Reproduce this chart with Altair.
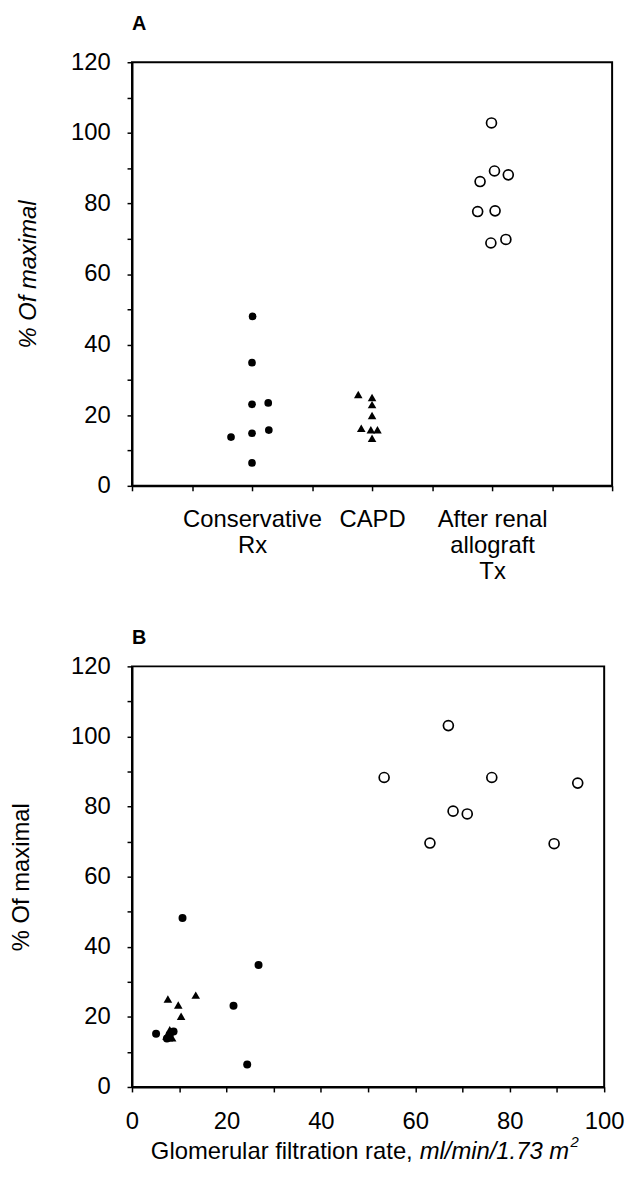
import json
import altair as alt
import pandas as pd

FONT = "Liberation Sans"

# ---------------- Panel A data (group position on 0-8 axis, % of maximal)
cat_positions = [2, 4, 6]
cat_labels = [["Conservative", "Rx"], ["CAPD"], ["After renal", "allograft", "Tx"]]

a_cons_pos = [2.01, 2.0, 2.0, 2.27, 1.65, 2.0, 2.28, 2.0]
a_cons_pct = [48.0, 34.9, 23.1, 23.5, 13.8, 14.9, 15.8, 6.5]
a_capd_pos = [3.77, 4.0, 4.0, 4.0, 3.82, 3.98, 4.09, 4.0]
a_capd_pct = [25.9, 25.0, 23.0, 19.9, 16.3, 15.9, 15.9, 13.5]
a_tx_pos = [5.99, 6.04, 6.27, 5.80, 5.76, 6.05, 5.98, 6.23]
a_tx_pct = [102.8, 89.2, 88.1, 86.2, 77.7, 77.9, 68.8, 69.8]

# ---------------- Panel B data (GFR, % of maximal)
b_cons_gfr = [10.7, 26.8, 21.5, 24.4, 5.1, 7.4, 8.0, 8.8]
b_cons_pct = [48.2, 34.8, 23.2, 6.4, 15.2, 13.8, 14.9, 15.8]
b_capd_gfr = [13.5, 7.6, 9.8, 10.4, 8.0, 7.3, 8.5, 7.8]
b_capd_pct = [26.2, 25.1, 23.4, 20.2, 16.3, 14.5, 14.0, 14.0]
b_tx_gfr = [67.0, 53.4, 76.2, 94.4, 68.0, 71.0, 63.1, 89.4]
b_tx_pct = [103.1, 88.3, 88.3, 86.7, 78.7, 77.9, 69.6, 69.4]

y_title = "% Of maximal"
x_title_parts = ["Glomerular filtration rate,", "ml/min/1.73 m", "2"]

dfA = pd.DataFrame({
    "pos": a_cons_pos + a_capd_pos + a_tx_pos,
    "pct": a_cons_pct + a_capd_pct + a_tx_pct,
    "grp": ["cons"] * len(a_cons_pos) + ["capd"] * len(a_capd_pos) + ["tx"] * len(a_tx_pos),
})
dfB = pd.DataFrame({
    "gfr": b_cons_gfr + b_capd_gfr + b_tx_gfr,
    "pct": b_cons_pct + b_capd_pct + b_tx_pct,
    "grp": ["cons"] * len(b_cons_gfr) + ["capd"] * len(b_capd_gfr) + ["tx"] * len(b_tx_gfr),
})

# label expression for panel A categories
expr = "''"
for p, lab in reversed(list(zip(cat_positions, cat_labels))):
    expr = f"datum.value == {p} ? {json.dumps(lab)} : ({expr})"

LABEL_SIZE = 24
TITLE_SIZE = 24

W_A, H_A = 484, 427
W_B, H_B = 476, 424

line_style = dict(domainColor="black", domainWidth=2, tickColor="black", tickWidth=1.5,
                  labelColor="black", titleColor="black", labelFont=FONT, titleFont=FONT)

yaxis_common = dict(
    values=list(range(0, 121, 10)),
    labelExpr="datum.value % 20 == 0 ? datum.label : ''",
    labelOverlap=False,
    labelFontSize=LABEL_SIZE,
    labelPadding=17,
    tickSize=5,
    grid=False,
    titleFontSize=TITLE_SIZE,
    titleFontWeight="normal",
    **line_style,
)

view_style = alt.ViewBackground(stroke="black", strokeWidth=2)

# ---------------- Panel A
xA = alt.X("pos:Q", scale=alt.Scale(domain=[0, 8], nice=False, zero=False),
           axis=alt.Axis(values=list(range(9)), labelExpr=expr, title=None, grid=False,
                         tickSize=5, labelPadding=17, labelBaseline="top",
                         labelLineHeight=26, labelFontSize=LABEL_SIZE,
                         labelFlush=False, labelOverlap=False, **line_style))
yA = alt.Y("pct:Q", scale=alt.Scale(domain=[0, 120], nice=False),
           axis=alt.Axis(title=y_title, titleFontStyle="italic", titlePadding=30, **yaxis_common))

baseA = alt.Chart(dfA).encode(x=xA, y=yA)
A = alt.layer(
    baseA.mark_circle(size=60, color="black", opacity=1).transform_filter(alt.datum.grp == "cons"),
    baseA.mark_point(shape="triangle-up", filled=True, size=75, color="black", opacity=1)
         .transform_filter(alt.datum.grp == "capd"),
    baseA.mark_point(shape="circle", filled=False, size=100, color="black", strokeWidth=1.7, opacity=1)
         .transform_filter(alt.datum.grp == "tx"),
).properties(
    width=W_A, height=H_A, view=view_style,
    title=alt.TitleParams("A", anchor="start", frame="group", fontSize=20, fontWeight="bold",
                          font=FONT, offset=-3, baseline="bottom", color="black"),
)

# ---------------- Panel B
xB = alt.X("gfr:Q", scale=alt.Scale(domain=[0, 100], nice=False),
           axis=alt.Axis(values=list(range(0, 101, 10)),
                         labelExpr="datum.value % 20 == 0 ? datum.label : ''",
                         labelOverlap=False, labelFlush=False, title=None, grid=False,
                         tickSize=5, labelPadding=18, labelFontSize=LABEL_SIZE, **line_style))
yB = alt.Y("pct:Q", scale=alt.Scale(domain=[0, 120], nice=False),
           axis=alt.Axis(title=y_title, titlePadding=37, **yaxis_common))

baseB = alt.Chart(dfB).encode(x=xB, y=yB)

title_df = pd.DataFrame({"t": [x_title_parts[0]]})
it_df = pd.DataFrame({"t": [x_title_parts[1]]})
sup_df = pd.DataFrame({"t": [x_title_parts[2]]})
split_x = 283
ty = H_B + 66
t1 = alt.Chart(title_df).mark_text(align="right", baseline="middle", fontSize=TITLE_SIZE, font=FONT,
                                   color="black").encode(x=alt.value(split_x), y=alt.value(ty), text="t:N")
t2 = alt.Chart(it_df).mark_text(align="left", baseline="middle", fontSize=TITLE_SIZE, font=FONT,
                                fontStyle="italic", color="black").encode(
    x=alt.value(split_x + 7), y=alt.value(ty), text="t:N")
t3 = alt.Chart(sup_df).mark_text(align="left", baseline="middle", fontSize=15, font=FONT,
                                 fontStyle="italic", color="black").encode(
    x=alt.value(split_x + 7 + 152), y=alt.value(ty - 10), text="t:N")

B = alt.layer(
    baseB.mark_circle(size=65, color="black", opacity=1).transform_filter(alt.datum.grp == "cons"),
    baseB.mark_point(shape="triangle-up", filled=True, size=75, color="black", opacity=1)
         .transform_filter(alt.datum.grp == "capd"),
    baseB.mark_point(shape="circle", filled=False, size=100, color="black", strokeWidth=1.7, opacity=1)
         .transform_filter(alt.datum.grp == "tx"),
    t1, t2, t3,
).properties(
    width=W_B, height=H_B, view=view_style,
    title=alt.TitleParams("B", anchor="start", frame="group", fontSize=20, fontWeight="bold",
                          font=FONT, offset=-13, baseline="bottom", color="black"),
)

chart = alt.vconcat(A, B, spacing=43, padding=0, background="white").configure_view(
    stroke="black", strokeWidth=2
)

chart.save("out.html", embed_options={"renderer": "svg", "actions": False})
